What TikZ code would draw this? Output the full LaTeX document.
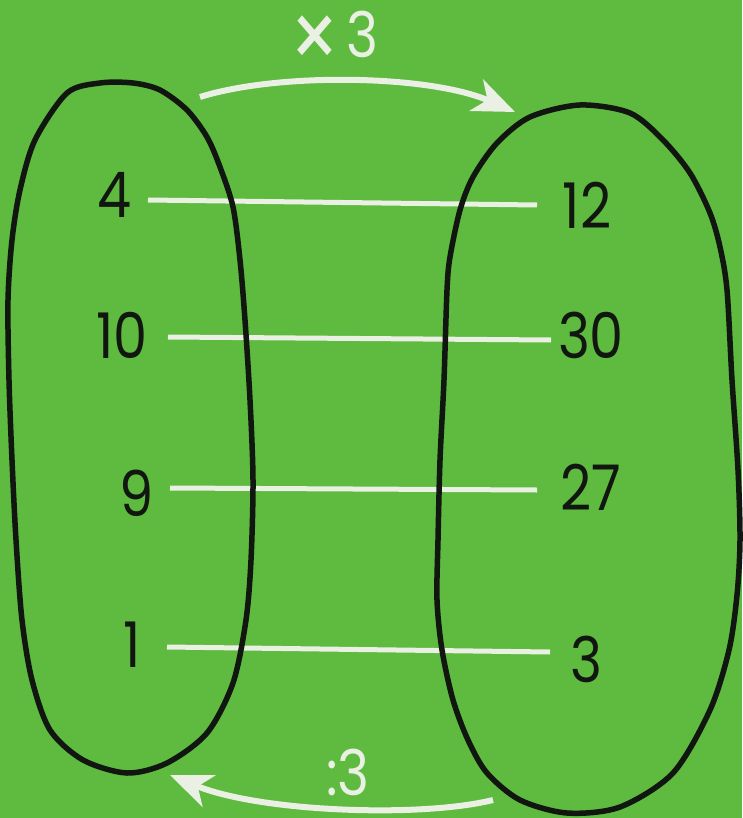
\documentclass[tikz,border=0pt]{standalone}
\usepackage{fontspec}
\setmainfont{Poppins}[FakeStretch=0.86]
\usetikzlibrary{arrows.meta}
\definecolor{bg}{RGB}{94,187,63}
\definecolor{chalk}{RGB}{234,240,228}
\definecolor{ink}{RGB}{18,22,16}
\begin{document}
\begin{tikzpicture}[x=1pt,y=-1pt,
  num/.style={font=\fontsize{63}{66}\selectfont, text=ink, inner sep=0pt},
  op/.style={font=\fontsize{63}{66}\selectfont, text=chalk, inner sep=0pt},
  link/.style={draw=chalk, line width=5pt},
  loopline/.style={draw=ink, line width=5.5pt},
  arr/.style={draw=chalk, line width=6pt, -{Stealth[length=42pt,width=34pt,inset=12pt]}}]
\fill[bg] (0,0) rectangle (742,818);
\useasboundingbox (0,0) rectangle (742,818);

% numbers
\node[num] (n4)  at (115,195) {4};
\node[num] (n10) at (122,335) {10};
\node[num] (n9)  at (137,493) {9};
\node[num] (n1)  at (132,645) {1};
\node[num] (n12) at (587,205) {12};
\node[num] (n30) at (591,335) {30};
\node[num] (n27) at (591,487) {27};
\node[num] (n3)  at (586,659) {3};

% links
\draw[link] ([shift={(33,5)}]n4.center)  -- ([shift={(-50,0)}]n12.center);
\draw[link] ([shift={(46,2)}]n10.center) -- ([shift={(-40,5)}]n30.center);
\draw[link] ([shift={(33,-5)}]n9.center) -- ([shift={(-54,3)}]n27.center);
\draw[link] ([shift={(35,2)}]n1.center)  -- ([shift={(-36,-7)}]n3.center);

% left loop
\draw[loopline] plot[smooth cycle, tension=0.5] coordinates {
 (67,93) (100,83) (133,83) (160,90) (187,110) (207,137) (220,167) (233,207)
 (240,260) (245,320) (250,400) (253,480) (251,560) (246,620) (233,683)
 (207,733) (167,763) (127,773) (83,760) (50,730) (32,680) (22,620)
 (16,540) (12,460) (9,380) (8,300) (12,240) (20,190) (35,140)};

% right loop
\draw[loopline] plot[smooth cycle, tension=0.5] coordinates {
 (580,105) (630,113) (663,140) (690,173) (710,213) (720,247) (727,290)
 (732,380) (738,470) (740,540) (737,595) (729,650) (710,710)
 (673,773) (620,807) (567,813) (520,800) (487,773) (468,740) (453,700)
 (442,650) (437,600) (438,540) (440,460) (444,380) (447,290) (450,257)
 (460,210) (473,177) (497,143) (530,117)};

% operators
\coordinate (ta) at (200,97);
\coordinate (tb) at (515,112);
\draw[arr] (ta) .. controls (280,72) and (430,75) .. (tb);
\node[op, anchor=base] (times) at (334,58) {{\fontsize{92}{92}\selectfont\raisebox{-12pt}{×}}\hspace{6pt}3};

\coordinate (ba) at (493,800);
\coordinate (bb) at (170,775);
\draw[arr] (ba) .. controls (420,818) and (260,812) .. (bb);
\node[op, anchor=base] (div) at (348,795) {:3};
\end{tikzpicture}
\end{document}
